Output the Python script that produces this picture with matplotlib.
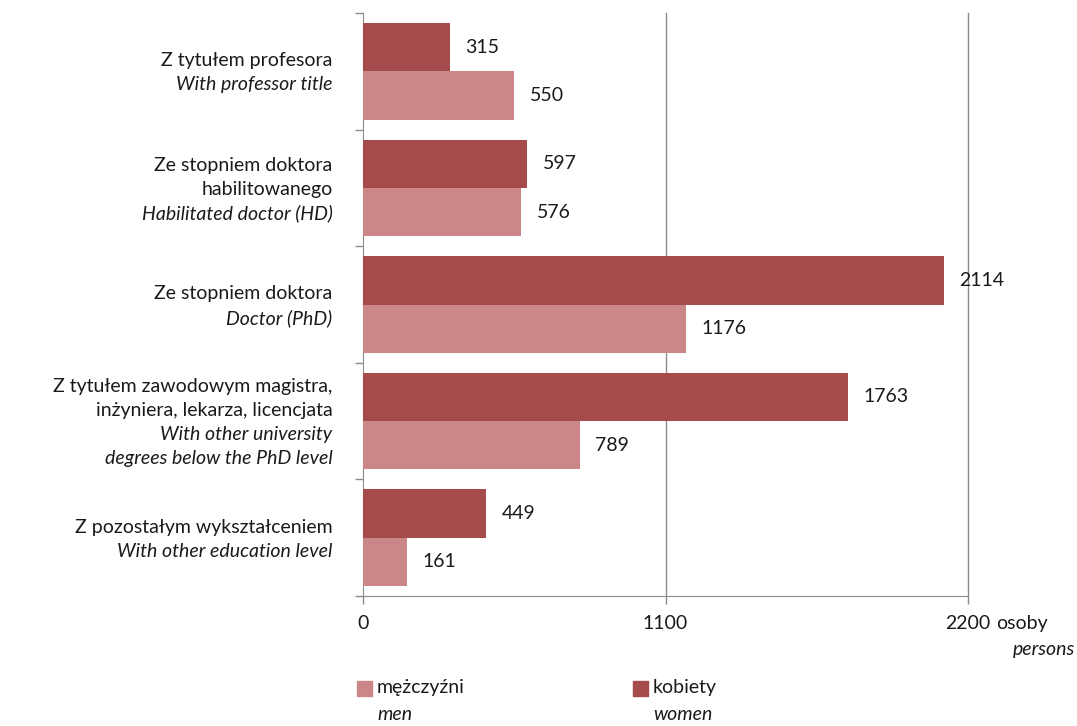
import matplotlib.pyplot as plt
from matplotlib.patches import Rectangle

# values (top to bottom)
women = [315, 597, 2114, 1763, 449]
men = [550, 576, 1176, 789, 161]
labels = [
    [("Z tytułem profesora", "normal"), ("With professor title", "italic")],
    [("Ze stopniem doktora", "normal"), ("habilitowanego", "normal"),
     ("Habilitated doctor (HD)", "italic")],
    [("Ze stopniem doktora", "normal"), ("Doctor (PhD)", "italic")],
    [("Z tytułem zawodowym magistra,", "normal"), ("inżyniera, lekarza, licencjata", "normal"),
     ("With other university", "italic"), ("degrees below the PhD level", "italic")],
    [("Z pozostałym wykształceniem", "normal"), ("With other education level", "italic")],
]
xticks = [0, 1100, 2200]

c_women = "#A64B4B"
c_men = "#CB8787"
grid_c = "#8C8C8C"
txt_c = "#1A1A1A"
fs = 14

plt.rcParams['font.family'] = ['Lato', 'DejaVu Sans']
plt.rcParams['font.size'] = fs

fig = plt.figure(figsize=(10.77, 7.26), dpi=100)
ax = fig.add_axes([363 / 1077, 1 - 596 / 726, (968 - 363) / 1077, (596 - 13) / 726])

h = 0.415
ys = list(range(len(women)))
ax.barh([y - h / 2 for y in ys], women, height=h, color=c_women, zorder=3)
ax.barh([y + h / 2 for y in ys], men, height=h, color=c_men, zorder=3)

for y, v in zip(ys, women):
    ax.annotate(str(v), xy=(v, y - h / 2), xytext=(11, 0), textcoords="offset points",
                ha="left", va="center", fontsize=fs, color=txt_c, zorder=4)
for y, v in zip(ys, men):
    ax.annotate(str(v), xy=(v, y + h / 2), xytext=(11, 0), textcoords="offset points",
                ha="left", va="center", fontsize=fs, color=txt_c, zorder=4)

# category labels, several lines, Polish regular + English italic
line_pt = 17.3
for y, lines in zip(ys, labels):
    n = len(lines)
    for k, (t, st) in enumerate(lines):
        off = ((n - 1) / 2 - k) * line_pt
        ax.annotate(t, xy=(0, y), xycoords=ax.get_yaxis_transform(),
                    xytext=(-22, off - 1), textcoords="offset points",
                    ha="right", va="center", fontsize=fs, style=st, color=txt_c)

ax.set_ylim(len(women) - 0.5, -0.5)
ax.set_xlim(0, 2200)
ax.set_xticks(xticks)
ax.set_xticklabels([str(x) for x in xticks], fontsize=fs, color=txt_c)
ax.set_yticks([y - 0.5 for y in ys] + [len(ys) - 0.5])
ax.set_yticklabels([])
ax.tick_params(axis="both", length=6, color=grid_c, width=1)
ax.tick_params(axis="x", pad=8)

for x in xticks[1:]:
    ax.axvline(x, color=grid_c, lw=1, zorder=1, clip_on=False)
for s in ["top", "right"]:
    ax.spines[s].set_visible(False)
for s in ["left", "bottom"]:
    ax.spines[s].set_color(grid_c)

ax.annotate("osoby", xy=(2200, 0), xycoords=("data", "axes fraction"),
            xytext=(20, -20), textcoords="offset points", ha="left", va="center",
            fontsize=fs, color=txt_c)
fig.text(1075 / 1077, 1 - 650 / 726, "persons", ha="right", va="center",
         fontsize=fs, style="italic", color=txt_c)

# legend
for x0, col, t1, t2 in [(357, c_men, "mężczyźni", "men"), (633, c_women, "kobiety", "women")]:
    fig.patches.append(Rectangle((x0 / 1077, 1 - 696 / 726), 15 / 1077, 15 / 726,
                                 transform=fig.transFigure, color=col))
    fig.text((x0 + 20) / 1077, 1 - 688 / 726, t1, ha="left", va="center",
             fontsize=fs, color=txt_c)
    fig.text((x0 + 20) / 1077, 1 - 715 / 726, t2, ha="left", va="center",
             fontsize=fs, style="italic", color=txt_c)

fig.savefig("out.png", dpi=100)
